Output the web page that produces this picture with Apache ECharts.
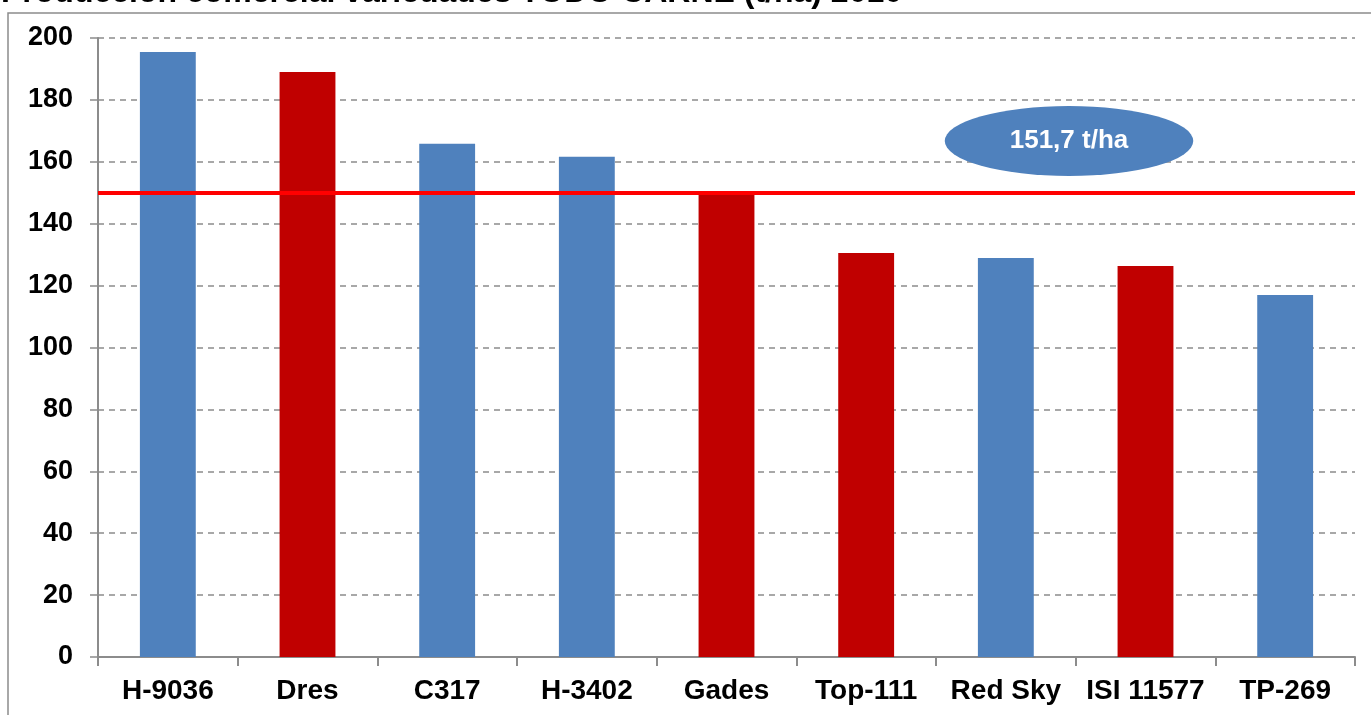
<!DOCTYPE html>
<html>
<head>
<meta charset="utf-8">
<script src="https://cdn.jsdelivr.net/npm/echarts@6/dist/echarts.min.js"></script>
<style>
  html, body { margin: 0; padding: 0; background: #fff; }
  #chart { width: 1371px; height: 715px; }
</style>
</head>
<body>
<div id="chart"></div>
<script>
// variedades y produccion (t/ha)
var categories = ['H-9036', 'Dres', 'C317', 'H-3402', 'Gades', 'Top-111', 'Red Sky', 'ISI 11577', 'TP-269'];
var produccion = [195.5, 189.0, 165.8, 161.6, 150.6, 130.5, 128.9, 126.3, 117.0];
var tipo = ['b', 'r', 'b', 'b', 'r', 'r', 'b', 'r', 'b'];
var yTicks = [0, 20, 40, 60, 80, 100, 120, 140, 160, 180, 200];
var lineaMedia = 150;
var etiquetaMedia = '151,7 t/ha';
var titulo = 'Producción comercial variedades TODO CARNE (t/ha) 2010';

var colores = { b: '#4F81BD', r: '#C00000' };
var fuente = '"Liberation Sans", Arial, sans-serif';

var chart = echarts.init(document.getElementById('chart'));

var option = {
  animation: false,
  backgroundColor: '#fff',
  title: {
    text: titulo,
    left: -4,
    top: -28,
    textStyle: { fontFamily: fuente, fontWeight: 'bold', fontSize: 32, color: '#000' }
  },
  grid: { left: 98, right: 16, top: 38, bottom: 58 },
  xAxis: {
    type: 'category',
    data: categories,
    axisLine: { lineStyle: { color: '#8c8c8c', width: 2 } },
    axisTick: { show: true, length: 9, lineStyle: { color: '#8c8c8c', width: 2 } },
    axisLabel: { interval: 0, fontFamily: fuente, fontWeight: 'bold', fontSize: 28, color: '#000', margin: 20 }
  },
  yAxis: {
    type: 'value',
    min: 0,
    max: 200,
    interval: 20,
    axisLine: { show: true, lineStyle: { color: '#8c8c8c', width: 2 } },
    axisTick: { show: true, length: 8, lineStyle: { color: '#8c8c8c', width: 1.5 } },
    axisLabel: {
      fontFamily: fuente, fontWeight: 'bold', fontSize: 27, color: '#000', margin: 25,
      formatter: function (v) { return yTicks.indexOf(v) >= 0 ? String(v) : ''; }
    },
    splitLine: { lineStyle: { color: '#8c8c8c', type: [6, 5], width: 1.5 } }
  },
  series: [{
    type: 'bar',
    barWidth: '40%',
    data: produccion.map(function (v, i) {
      return { value: v, itemStyle: { color: colores[tipo[i]] } };
    }),
    markLine: {
      silent: true,
      symbol: 'none',
      label: { show: false },
      lineStyle: { color: '#FF0000', width: 4, type: 'solid' },
      data: [{ yAxis: lineaMedia }]
    }
  }],
  graphic: [
    {
      type: 'rect',
      shape: { x: 8, y: 13, width: 1400, height: 720 },
      style: { fill: null, stroke: '#8c8c8c', lineWidth: 1.5 },
      z: -1
    },
    {
      type: 'circle',
      x: 1069,
      y: 141,
      scaleX: 3.55,
      shape: { cx: 0, cy: 0, r: 35 },
      style: { fill: '#4F81BD' },
      z: 10
    },
    {
      type: 'text',
      x: 1069,
      y: 141,
      style: {
        text: etiquetaMedia,
        fill: '#fff',
        font: 'bold 26px ' + fuente,
        textAlign: 'center',
        textVerticalAlign: 'middle'
      },
      z: 11
    }
  ]
};

chart.setOption(option);
window.addEventListener('resize', function () { chart.resize(); });
</script>
</body>
</html>
